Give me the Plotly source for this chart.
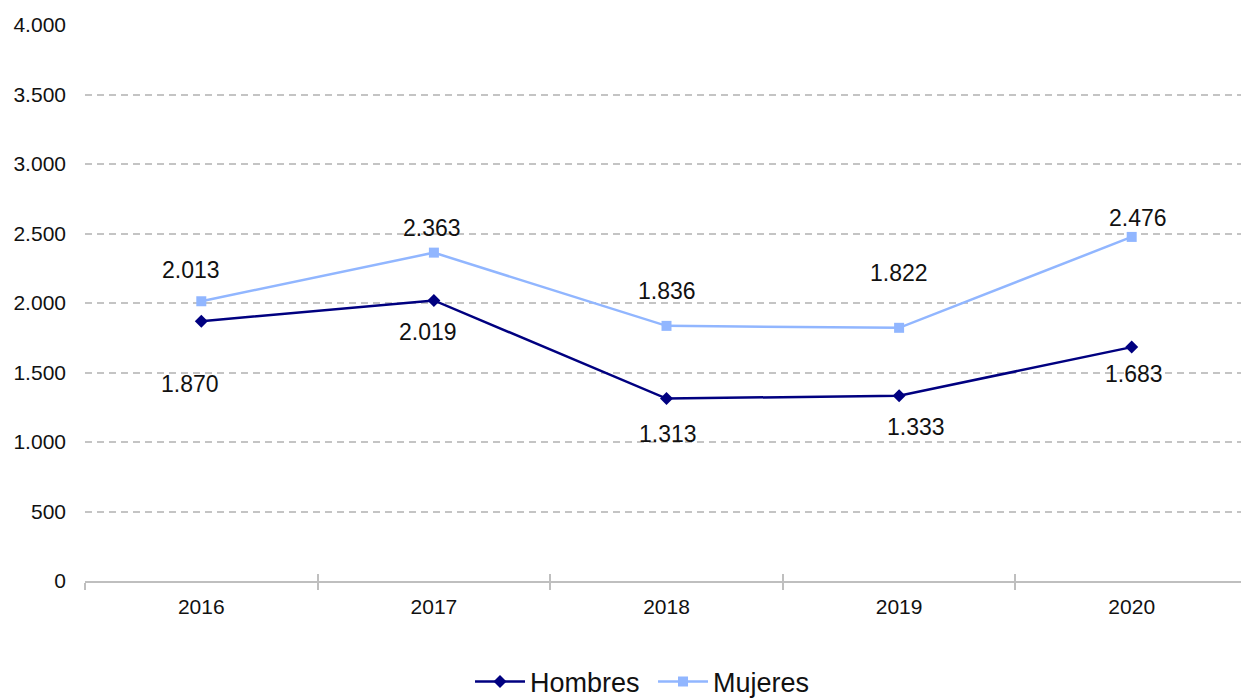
import plotly.graph_objects as go

years = ["2016", "2017", "2018", "2019", "2020"]
hombres = [1870, 2019, 1313, 1333, 1683]
mujeres = [2013, 2363, 1836, 1822, 2476]

# label offsets (px) relative to each point, as placed in the original
h_dx = [-11, -6, 1, 17, 2]
h_dy = [-63, -32, -35, -31, -27]
m_dx = [-10, -2, 0, 0, 6]
m_dy = [31, 25, 35, 55, 19]

NAVY = "#000080"
LIGHT = "#91B6FF"
FONT = "Liberation Sans, Arial, Helvetica, sans-serif"

def fmt(v):
    return f"{v:,}".replace(",", ".")

fig = go.Figure()
fig.add_trace(go.Scatter(
    x=years, y=hombres, name="Hombres", mode="lines+markers",
    line=dict(color=NAVY, width=2.5),
    marker=dict(symbol="diamond", size=10, color=NAVY),
))
fig.add_trace(go.Scatter(
    x=years, y=mujeres, name="Mujeres", mode="lines+markers",
    line=dict(color=LIGHT, width=2.5),
    marker=dict(symbol="square", size=10, color=LIGHT),
))
# invisible trace on overlay axis for upper tick halves
fig.add_trace(go.Scatter(
    x=years, y=hombres, xaxis="x2", mode="markers",
    marker=dict(opacity=0), showlegend=False, hoverinfo="skip",
))

annotations = []
for i, y in enumerate(years):
    annotations.append(dict(x=i, y=hombres[i], xref="x", yref="y", text=fmt(hombres[i]),
                            showarrow=False, xshift=h_dx[i], yshift=h_dy[i],
                            font=dict(size=23, color="#111111", family=FONT)))
    annotations.append(dict(x=i, y=mujeres[i], xref="x", yref="y", text=fmt(mujeres[i]),
                            showarrow=False, xshift=m_dx[i], yshift=m_dy[i],
                            font=dict(size=23, color="#111111", family=FONT)))

xr = [-0.5, -0.5 + 1156 / 232.6]

fig.update_layout(
    width=1241, height=698, autosize=False,
    margin=dict(l=85, r=0, t=25, b=117),
    paper_bgcolor="white", plot_bgcolor="white",
    separators=",.",
    font=dict(family=FONT, color="#111111"),
    showlegend=True,
    legend=dict(orientation="h", xref="container", x=0.5262, xanchor="center",
                yref="container", y=(698 - 682) / 698, yanchor="middle",
                font=dict(size=27, family=FONT, color="#111111"), itemwidth=50,
                entrywidth=118, entrywidthmode="pixels",
                traceorder="normal"),
    xaxis=dict(type="category", range=xr, showgrid=False, automargin=False,
               showline=True, linecolor="#BFBFBF", linewidth=2,
               ticks="outside", tickson="boundaries", ticklen=7, tickwidth=2,
               tickcolor="#BFBFBF", tickfont=dict(size=21, family=FONT, color="#111111"),
               ticklabelstandoff=6, fixedrange=True),
    xaxis2=dict(type="category", range=xr, overlaying="x", side="bottom",
                anchor="y", showgrid=False, showline=False, automargin=False,
                ticks="inside", tickson="boundaries", ticklen=7, tickwidth=2,
                tickcolor="#BFBFBF", showticklabels=False),
    yaxis=dict(range=[0, 4001], tickvals=[0, 500, 1000, 1500, 2000, 2500, 3000, 3500, 4000],
               tickformat=",d", showgrid=True, gridcolor="#C4C4C4", griddash="7px,5px",
               gridwidth=1.5, zeroline=False, showline=False, automargin=False,
               ticklabelstandoff=18,
               tickfont=dict(size=21, family=FONT, color="#111111")),
    annotations=annotations,
)

fig.write_html(
    "out.html",
    config={"responsive": False, "displayModeBar": False},
    post_script="document.body.style.margin='0px';document.body.style.overflow='hidden';",
)
